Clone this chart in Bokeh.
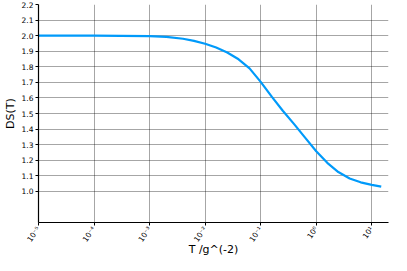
import math
from bokeh.plotting import figure
from bokeh.models import FixedTicker, Range1d, Title
from bokeh.embed import file_html
from bokeh.resources import INLINE

# data
T = [1e-5, 3e-5, 1e-4, 3e-4, 1e-3, 2e-3, 4e-3, 6.3e-3, 1e-2, 1.58e-2,
     2.5e-2, 4e-2, 6.3e-2, 0.1, 0.158, 0.25, 0.4, 0.63, 1.0, 1.58,
     2.5, 4.0, 6.3, 10.0, 14.8]
DS = [2.000, 2.000, 2.000, 1.999, 1.997, 1.992, 1.980, 1.966, 1.948, 1.924,
      1.892, 1.848, 1.790, 1.703, 1.608, 1.518, 1.432, 1.345, 1.258, 1.183,
      1.124, 1.083, 1.058, 1.042, 1.030]

x_ticks = [1e-5, 1e-4, 1e-3, 1e-2, 1e-1, 1e0, 1e1]
x_tick_labels = ["10⁻⁵", "10⁻⁴", "10⁻³", "10⁻²", "10⁻¹", "10⁰", "10¹"]
y_ticks = [1.0, 1.1, 1.2, 1.3, 1.4, 1.5, 1.6, 1.7, 1.8, 1.9, 2.0, 2.1, 2.2]
x_label = "T /g^(-2)"
y_label = "DS(T)"

p = figure(width=391, height=255, x_axis_type="log",
           x_range=Range1d(1e-5, 20.0), y_range=Range1d(0.8, 2.2),
           output_backend="svg", toolbar_location=None,
           min_border_left=28, min_border_right=3, min_border_top=4, min_border_bottom=0)

p.line(T, DS, line_color="#009AFA", line_width=2.2, line_join="round")

p.outline_line_color = None
p.background_fill_color = "white"
p.border_fill_color = "white"

p.xaxis.ticker = FixedTicker(ticks=x_ticks)
p.xaxis.major_label_overrides = {t: l for t, l in zip(x_ticks, x_tick_labels)}
p.xaxis.major_label_orientation = math.radians(55)
p.yaxis.ticker = FixedTicker(ticks=y_ticks)
p.yaxis.major_label_overrides = {t: f"{t:.1f}" for t in y_ticks}

for ax in (p.xaxis, p.yaxis):
    ax.axis_line_color = "black"
    ax.axis_line_width = 1.2
    ax.major_tick_in = 0
    ax.major_tick_out = 3
    ax.minor_tick_line_color = None
    ax.major_label_text_font = "DejaVu Sans"
    ax.major_label_text_font_size = "7.5px"
    ax.major_label_text_color = "black"
    ax.axis_label_text_font = "DejaVu Sans"
    ax.axis_label_text_font_style = "normal"
    ax.axis_label_text_color = "black"
    ax.major_label_standoff = 2

p.yaxis.axis_label = y_label
p.yaxis.axis_label_text_font_size = "11px"
p.yaxis.axis_label_standoff = 2

# x axis title placed in its own panel below the tick labels
p.xaxis.axis_label = " "
p.xaxis.axis_label_text_font_size = "1px"
p.xaxis.axis_label_standoff = -13

p.add_layout(Title(text=x_label, align="center", standoff=0, offset=-5,
                   text_font="DejaVu Sans", text_font_size="11px",
                   text_font_style="normal", text_color="black"), "below")

p.xgrid.grid_line_color = "black"
p.xgrid.grid_line_alpha = 0.35
p.ygrid.grid_line_color = "black"
p.ygrid.grid_line_alpha = 0.35
p.xgrid.ticker = FixedTicker(ticks=x_ticks)
p.ygrid.ticker = FixedTicker(ticks=y_ticks)

open("out.html", "w").write(file_html(p, INLINE))
